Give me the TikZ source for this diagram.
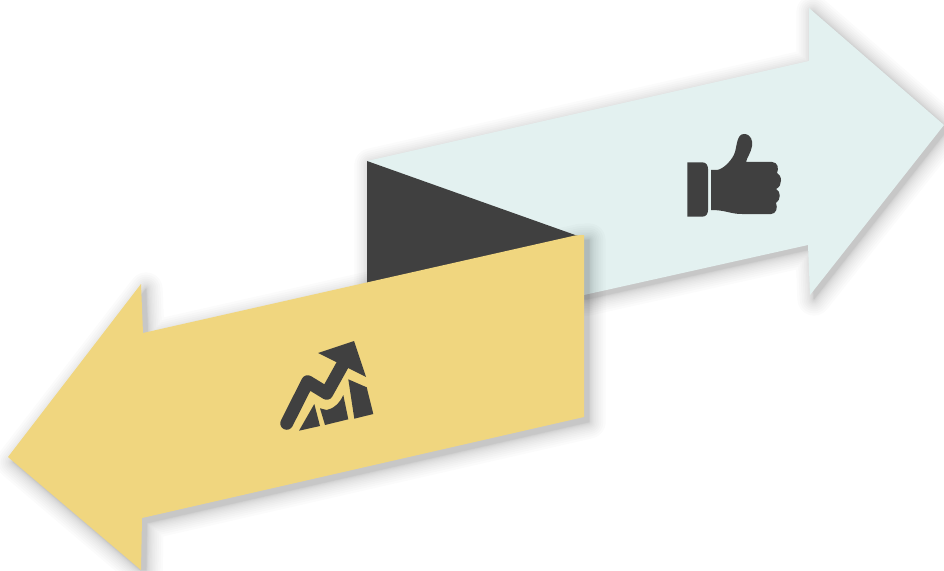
\documentclass[tikz,border=0pt]{standalone}
\newcommand{\bluearrowpath}{(367,161) -- (809,61) -- (809,8) -- (944,125) -- (810,295) -- (808,245) -- (584,295) -- (367,295) -- cycle}
\newcommand{\yellowarrowpath}{(575,235.5) -- (583,235) -- (584,235) -- (584,417) -- (142,518) -- (141,570) -- (8,457) -- (141,284) -- (143,333) -- cycle}
\begin{document}
\begin{tikzpicture}[x=0.75pt,y=-0.75pt]
\definecolor{ablue}{HTML}{E3F1F0}
\definecolor{ayellow}{HTML}{F0D67F}
\definecolor{adark}{HTML}{404040}
\tikzset{softshade/.style={fill=black,draw=black,line join=round}}
\useasboundingbox (0,0) rectangle (944,570);
\fill[white] (0,0) rectangle (944,570);
% blue arrow shadow
\begin{scope}[shift={(4,4)}]
\foreach \i in {1,...,14}{
 \pgfmathsetmacro{\w}{0.1275*\i*\i}
 \begin{scope}[transparency group,opacity=0.014]
 \path[softshade,line width=\w pt] \bluearrowpath;
 \end{scope}
}
\end{scope}
\fill[ablue] \bluearrowpath;
% yellow shadow
\begin{scope}[shift={(5,5)}]
\foreach \i in {1,...,14}{
 \pgfmathsetmacro{\w}{0.1275*\i*\i}
 \begin{scope}[transparency group,opacity=0.017]
 \path[softshade,line width=\w pt] \yellowarrowpath;
 \end{scope}
}
\end{scope}
% dark fold
\fill[adark] (367,161) -- (578,236) -- (578,250) -- (367,290) -- cycle;
\fill[ayellow] \yellowarrowpath;
% thumb icon
\fill[adark] (687.3,162.3) -- (702,162.3) .. controls (706,162.3) and (708,165) .. (708,169) -- (708,210) .. controls (708,214) and (706,216.7) .. (702,216.7) -- (687.3,216.7) -- cycle;
\fill[adark] (711,170) -- (717,170)
 .. controls (724,169) and (733,159) .. (735,152)
 .. controls (737,145) and (737,134) .. (744,134)
 .. controls (751,134) and (753,141) .. (752,146)
 .. controls (751,153) and (747,157) .. (746,162)
 -- (772,162)
 .. controls (778,162) and (779,169) .. (777,173)
 .. controls (782,175) and (783,186) .. (776,189)
 .. controls (781,191) and (781,200) .. (776,203)
 .. controls (778,208) and (776,214) .. (771,214)
 -- (742,214)
 .. controls (730,214) and (726,210) .. (711,210)
 -- cycle;
% chart icon
\fill[adark] (318,353) -- (354,341) -- (366,377) -- cycle;
\draw[adark,line width=9.7pt,line cap=round,line join=round] (286.7,423.3) -- (307.7,381.7) -- (326.7,393.3) -- (343,364);
\fill[adark] (299,430.7) -- (314.3,404) -- (320,426) -- cycle;
\fill[adark] (320,408.3) -- (326.7,410) .. controls (333,409) and (340,403) .. (343.3,395) -- (348.3,419.3) -- (325,425) -- cycle;
\fill[adark] (348.3,379.3) -- (366.7,387.3) -- (373.3,414) -- (354.3,418.7) -- cycle;
\end{tikzpicture}
\end{document}
